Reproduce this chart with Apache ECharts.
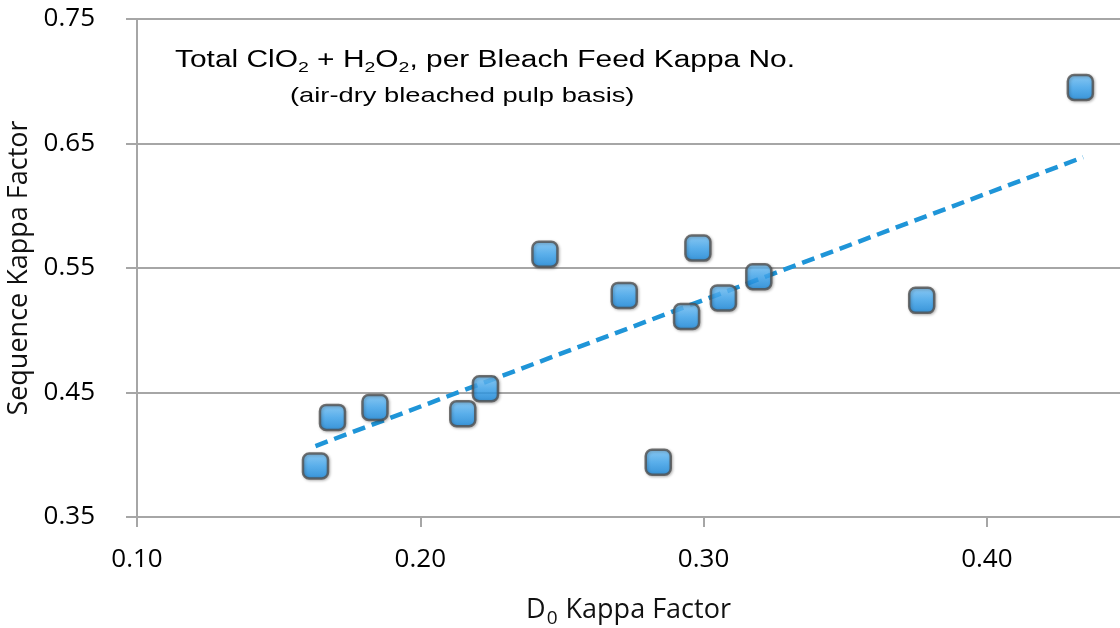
<!DOCTYPE html>
<html>
<head>
<meta charset="utf-8">
<script src="https://cdn.jsdelivr.net/npm/echarts@6/dist/echarts.min.js"></script>
<style>
  html, body { margin: 0; padding: 0; background: #fff; }
  #main { width: 1120px; height: 628px; }
</style>
</head>
<body>
<div id="main"></div>
<script>
// D0 kappa factor (x) for each mill point
const d0Kappa = [0.163, 0.169, 0.184, 0.215, 0.223, 0.244, 0.272, 0.284, 0.294, 0.298, 0.307, 0.3195, 0.377, 0.433]
// Sequence kappa factor (y)
const seqKappa = [0.391, 0.430, 0.438, 0.433, 0.453, 0.561, 0.528, 0.394, 0.511, 0.566, 0.526, 0.543, 0.524, 0.695]
// Linear trend line ends
const trendX = [0.163, 0.434]
const trendY = [0.407, 0.639]
// Axis ticks
const xTicks = [0.10, 0.20, 0.30, 0.40]
const yTicks = [0.35, 0.45, 0.55, 0.65, 0.75]

let points = new Array()
for (let i = 0; i < d0Kappa.length; i++) {
  points.push([d0Kappa[i], seqKappa[i]])
}
let trend = trendX.map((x, i) => [x, trendY[i]])

let myChart = echarts.init(document.getElementById('main'))
const axisFont = 'Open Sans, Lato, sans-serif'
const titleFont = 'Liberation Sans, Arial, sans-serif'

let option = {
  animation: false,
  backgroundColor: '#fff',
  grid: {
    left: 137,
    right: 0,
    top: 19,
    bottom: 111,
    containLabel: false,
    outerBoundsMode: 'none',
  },
  xAxis: {
    type: 'value',
    min: xTicks[0],
    max: 0.447,
    interval: 0.1,
    name: '{t|D}{s|0}{t| Kappa Factor}',
    nameLocation: 'middle',
    nameGap: 76,
    nameTextStyle: {
      rich: {
        t: { fontFamily: axisFont, fontSize: 27, color: '#111' },
        s: { fontFamily: axisFont, fontSize: 19, color: '#111', verticalAlign: 'bottom', padding: [16, 1, 0, 1] },
      },
    },
    axisLine: { show: true, onZero: false, lineStyle: { color: '#a6a6a6', width: 2 } },
    axisTick: { show: true, length: 10, inside: false, lineStyle: { color: '#a6a6a6', width: 2 } },
    axisLabel: {
      margin: 30,
      fontFamily: axisFont,
      fontSize: 26,
      color: '#000',
      formatter: v => (xTicks.some(t => Math.abs(t - v) < 1e-6) ? v.toFixed(2) : ''),
      showMaxLabel: false,
    },
    splitLine: { show: false },
  },
  yAxis: {
    type: 'value',
    min: yTicks[0],
    max: yTicks[yTicks.length - 1],
    interval: 0.1,
    name: 'Sequence Kappa Factor',
    nameLocation: 'middle',
    nameGap: 102,
    nameTextStyle: { fontFamily: axisFont, fontSize: 27, color: '#111' },
    axisLine: { show: true, onZero: false, lineStyle: { color: '#a6a6a6', width: 2 } },
    axisTick: { show: true, length: 11, lineStyle: { color: '#a6a6a6', width: 2 } },
    axisLabel: {
      margin: 42,
      fontFamily: axisFont,
      fontSize: 26,
      color: '#000',
      formatter: v => v.toFixed(2),
    },
    splitLine: { show: true, lineStyle: { color: '#a6a6a6', width: 2 } },
  },
  graphic: [
    {
      type: 'text',
      x: 175,
      y: 46,
      scaleX: 1.3,
      style: {
        text: '{t|Total ClO}{s|2}{t| + H}{s|2}{t|O}{s|2}{t|, per Bleach Feed Kappa No.}',
        verticalAlign: 'top',
        rich: {
          t: { fontFamily: titleFont, fontSize: 23, fill: '#000' },
          s: { fontFamily: titleFont, fontSize: 15, fill: '#000', padding: [14, 0, 0, 0] },
        },
      },
    },
    {
      type: 'text',
      x: 290,
      y: 86,
      scaleX: 1.3,
      style: {
        text: '(air-dry bleached pulp basis)',
        verticalAlign: 'top',
        fontFamily: titleFont,
        fontSize: 21,
        fill: '#000',
      },
    },
  ],
  series: [
    {
      name: 'Trend',
      type: 'line',
      data: trend,
      symbol: 'none',
      z: 3,
      lineStyle: { color: '#1f95d8', width: 4.5, type: [13, 7] },
    },
    {
      name: 'Mills',
      type: 'scatter',
      data: points,
      symbol: 'roundRect',
      symbolSize: 25,
      z: 4,
      itemStyle: {
        color: new echarts.graphic.LinearGradient(0, 0, 0, 1, [
          { offset: 0, color: '#80ccff' },
          { offset: 0.5, color: '#40aaf5' },
          { offset: 1, color: '#1386dc' },
        ]),
        borderColor: '#505050',
        borderWidth: 2.5,
        shadowColor: 'rgba(0,0,0,0.3)',
        shadowBlur: 3,
        shadowOffsetX: 1,
        shadowOffsetY: 1,
      },
    },
  ],
}
myChart.setOption(option)
</script>
</body>
</html>
